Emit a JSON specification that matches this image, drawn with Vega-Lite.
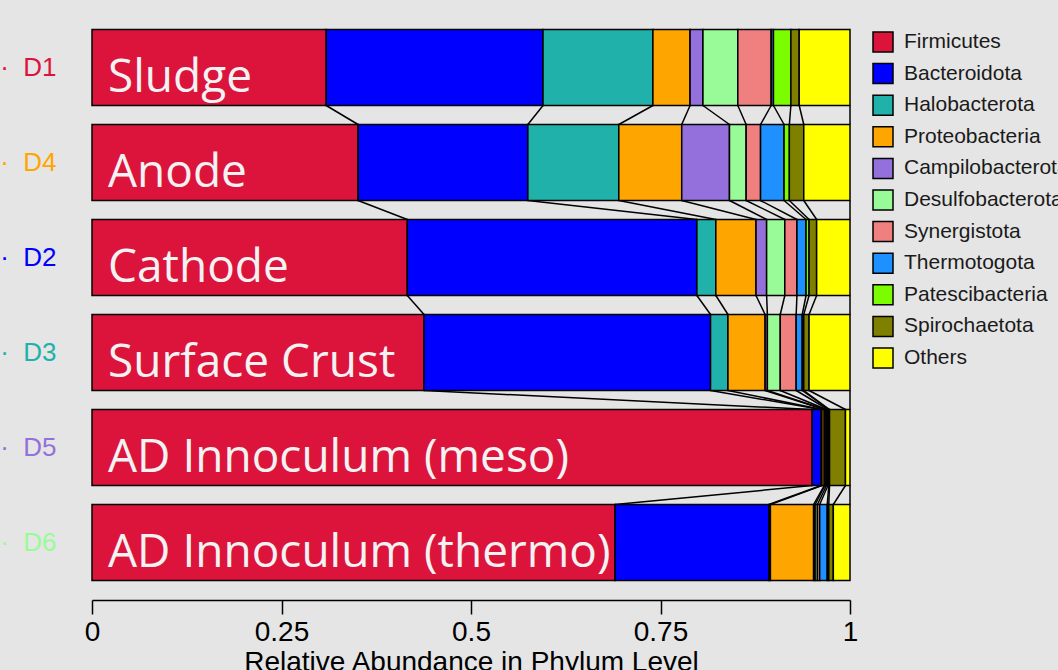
{
  "$schema": "https://vega.github.io/schema/vega-lite/v6.json",
  "width": 758,
  "height": 570,
  "autosize": "none",
  "padding": {"left": 92, "top": 20, "right": 208, "bottom": 80},
  "background": "#e5e5e5",
  "config": {
    "view": {"stroke": null},
    "axis": {"grid": false},
    "font": "Liberation Sans"
  },
  "datasets": {
    "abund": [
      {"sample": "D1", "phylum": "Firmicutes", "value": 0.309},
      {"sample": "D1", "phylum": "Bacteroidota", "value": 0.286},
      {"sample": "D1", "phylum": "Halobacterota", "value": 0.145},
      {"sample": "D1", "phylum": "Proteobacteria", "value": 0.049},
      {"sample": "D1", "phylum": "Campilobacterota", "value": 0.017},
      {"sample": "D1", "phylum": "Desulfobacterota", "value": 0.046},
      {"sample": "D1", "phylum": "Synergistota", "value": 0.044},
      {"sample": "D1", "phylum": "Thermotogota", "value": 0.003},
      {"sample": "D1", "phylum": "Patescibacteria", "value": 0.023},
      {"sample": "D1", "phylum": "Spirochaetota", "value": 0.011},
      {"sample": "D1", "phylum": "Others", "value": 0.067},
      {"sample": "D4", "phylum": "Firmicutes", "value": 0.351},
      {"sample": "D4", "phylum": "Bacteroidota", "value": 0.224},
      {"sample": "D4", "phylum": "Halobacterota", "value": 0.120},
      {"sample": "D4", "phylum": "Proteobacteria", "value": 0.083},
      {"sample": "D4", "phylum": "Campilobacterota", "value": 0.063},
      {"sample": "D4", "phylum": "Desulfobacterota", "value": 0.022},
      {"sample": "D4", "phylum": "Synergistota", "value": 0.019},
      {"sample": "D4", "phylum": "Thermotogota", "value": 0.031},
      {"sample": "D4", "phylum": "Patescibacteria", "value": 0.007},
      {"sample": "D4", "phylum": "Spirochaetota", "value": 0.019},
      {"sample": "D4", "phylum": "Others", "value": 0.061},
      {"sample": "D2", "phylum": "Firmicutes", "value": 0.416},
      {"sample": "D2", "phylum": "Bacteroidota", "value": 0.382},
      {"sample": "D2", "phylum": "Halobacterota", "value": 0.025},
      {"sample": "D2", "phylum": "Proteobacteria", "value": 0.053},
      {"sample": "D2", "phylum": "Campilobacterota", "value": 0.014},
      {"sample": "D2", "phylum": "Desulfobacterota", "value": 0.024},
      {"sample": "D2", "phylum": "Synergistota", "value": 0.016},
      {"sample": "D2", "phylum": "Thermotogota", "value": 0.012},
      {"sample": "D2", "phylum": "Patescibacteria", "value": 0.004},
      {"sample": "D2", "phylum": "Spirochaetota", "value": 0.010},
      {"sample": "D2", "phylum": "Others", "value": 0.044},
      {"sample": "D3", "phylum": "Firmicutes", "value": 0.438},
      {"sample": "D3", "phylum": "Bacteroidota", "value": 0.378},
      {"sample": "D3", "phylum": "Halobacterota", "value": 0.023},
      {"sample": "D3", "phylum": "Proteobacteria", "value": 0.049},
      {"sample": "D3", "phylum": "Campilobacterota", "value": 0.003},
      {"sample": "D3", "phylum": "Desulfobacterota", "value": 0.017},
      {"sample": "D3", "phylum": "Synergistota", "value": 0.021},
      {"sample": "D3", "phylum": "Thermotogota", "value": 0.008},
      {"sample": "D3", "phylum": "Patescibacteria", "value": 0.002},
      {"sample": "D3", "phylum": "Spirochaetota", "value": 0.007},
      {"sample": "D3", "phylum": "Others", "value": 0.054},
      {"sample": "D5", "phylum": "Firmicutes", "value": 0.950},
      {"sample": "D5", "phylum": "Bacteroidota", "value": 0.012},
      {"sample": "D5", "phylum": "Halobacterota", "value": 0.001},
      {"sample": "D5", "phylum": "Proteobacteria", "value": 0.003},
      {"sample": "D5", "phylum": "Campilobacterota", "value": 0.001},
      {"sample": "D5", "phylum": "Desulfobacterota", "value": 0.002},
      {"sample": "D5", "phylum": "Synergistota", "value": 0.002},
      {"sample": "D5", "phylum": "Thermotogota", "value": 0.001},
      {"sample": "D5", "phylum": "Patescibacteria", "value": 0.001},
      {"sample": "D5", "phylum": "Spirochaetota", "value": 0.021},
      {"sample": "D5", "phylum": "Others", "value": 0.006},
      {"sample": "D6", "phylum": "Firmicutes", "value": 0.690},
      {"sample": "D6", "phylum": "Bacteroidota", "value": 0.203},
      {"sample": "D6", "phylum": "Halobacterota", "value": 0.002},
      {"sample": "D6", "phylum": "Proteobacteria", "value": 0.057},
      {"sample": "D6", "phylum": "Campilobacterota", "value": 0.002},
      {"sample": "D6", "phylum": "Desulfobacterota", "value": 0.003},
      {"sample": "D6", "phylum": "Synergistota", "value": 0.003},
      {"sample": "D6", "phylum": "Thermotogota", "value": 0.010},
      {"sample": "D6", "phylum": "Patescibacteria", "value": 0.002},
      {"sample": "D6", "phylum": "Spirochaetota", "value": 0.006},
      {"sample": "D6", "phylum": "Others", "value": 0.022}
    ],
    "samples": [
      {"sample": "D1", "name": "Sludge"},
      {"sample": "D4", "name": "Anode"},
      {"sample": "D2", "name": "Cathode"},
      {"sample": "D3", "name": "Surface Crust"},
      {"sample": "D5", "name": "AD Innoculum (meso)"},
      {"sample": "D6", "name": "AD Innoculum (thermo)"}
    ]
  },
  "layer": [
    {
      "data": {"name": "abund"},
      "transform": [
        {"calculate": "indexof(['Firmicutes','Bacteroidota','Halobacterota','Proteobacteria','Campilobacterota','Desulfobacterota','Synergistota','Thermotogota','Patescibacteria','Spirochaetota','Others'], datum.phylum)", "as": "ord"},
        {"stack": "value", "groupby": ["sample"], "sort": [{"field": "ord", "order": "ascending"}], "as": ["x0", "x1"]},
        {"calculate": "indexof(['D1','D4','D2','D3','D5','D6'], datum.sample)", "as": "rowi"},
        {"window": [{"op": "lead", "field": "x1", "as": "nx1"}, {"op": "lead", "field": "sample", "as": "nsample"}], "groupby": ["phylum"], "sort": [{"field": "rowi", "order": "ascending"}]},
        {"filter": "datum.nsample != null"}
      ],
      "mark": {"type": "rule", "stroke": "black", "strokeWidth": 1.5, "yOffset": 38, "y2Offset": -38},
      "encoding": {
        "x": {"field": "x1", "type": "quantitative", "scale": {"domain": [0, 1], "nice": false, "zero": false}},
        "x2": {"field": "nx1"},
        "y": {"field": "sample", "type": "nominal", "sort": ["D1", "D4", "D2", "D3", "D5", "D6"], "scale": {"type": "point", "padding": 0.5}},
        "y2": {"field": "nsample"}
      }
    },
    {
      "data": {"name": "abund"},
      "transform": [
        {"calculate": "indexof(['Firmicutes','Bacteroidota','Halobacterota','Proteobacteria','Campilobacterota','Desulfobacterota','Synergistota','Thermotogota','Patescibacteria','Spirochaetota','Others'], datum.phylum)", "as": "ord"},
        {"stack": "value", "groupby": ["sample"], "sort": [{"field": "ord", "order": "ascending"}], "as": ["x0", "x1"]}
      ],
      "mark": {"type": "bar", "height": 76, "stroke": "black", "strokeWidth": 1.5},
      "encoding": {
        "x": {
          "field": "x0", "type": "quantitative",
          "scale": {"domain": [0, 1], "nice": false, "zero": false},
          "axis": {
            "values": [0, 0.25, 0.5, 0.75, 1],
            "format": "~g",
            "title": "Relative Abundance in Phylum Level",
            "titleFont": "Liberation Sans",
            "titleFontSize": 28,
            "titleFontWeight": "normal",
            "titleColor": "#000000",
            "titlePadding": 2,
            "labelFont": "Liberation Sans",
            "labelFontSize": 28,
            "labelColor": "#000000",
            "labelPadding": 4,
            "labelFlush": false,
            "labelOverlap": false,
            "offset": 10,
            "domainColor": "#000000",
            "domainWidth": 1.5,
            "tickColor": "#000000",
            "tickWidth": 1.5,
            "tickSize": 14
          }
        },
        "x2": {"field": "x1"},
        "y": {
          "field": "sample", "type": "nominal",
          "sort": ["D1", "D4", "D2", "D3", "D5", "D6"],
          "scale": {"type": "point", "padding": 0.5},
          "axis": {
            "title": null,
            "ticks": false,
            "domain": false,
            "labelPadding": 36,
            "labelFont": "Liberation Sans",
            "labelFontSize": 26,
            "labelExpr": "'·\u00a0\u00a0' + datum.label",
            "labelColor": {"expr": "datum.value == 'D1' ? '#DC143C' : datum.value == 'D4' ? '#FFA500' : datum.value == 'D2' ? '#0000FF' : datum.value == 'D3' ? '#20B2AA' : datum.value == 'D5' ? '#9370DB' : '#98FB98'"}
          }
        },
        "color": {
          "field": "phylum", "type": "nominal",
          "scale": {
            "domain": ["Firmicutes", "Bacteroidota", "Halobacterota", "Proteobacteria", "Campilobacterota", "Desulfobacterota", "Synergistota", "Thermotogota", "Patescibacteria", "Spirochaetota", "Others"],
            "range": ["#DC143C", "#0000FF", "#20B2AA", "#FFA500", "#9370DB", "#98FB98", "#F08080", "#1E90FF", "#7CFC00", "#808000", "#FFFF00"]
          },
          "legend": {
            "title": null,
            "orient": "none",
            "legendX": 780,
            "legendY": 11,
            "padding": 0,
            "symbolType": "square",
            "symbolSize": 400,
            "symbolStrokeColor": "black",
            "symbolStrokeWidth": 1.5,
            "labelFont": "Liberation Sans",
            "labelFontSize": 21,
            "labelColor": "#1a1a1a",
            "labelOffset": 10,
            "labelLimit": 400,
            "rowPadding": 5.6
          }
        }
      }
    },
    {
      "data": {"name": "samples"},
      "mark": {"type": "text", "align": "left", "baseline": "alphabetic", "dx": 16, "dy": 24, "fontSize": 46, "font": "Open Sans", "fontWeight": "normal", "color": "#F2F2F2"},
      "encoding": {
        "x": {"datum": 0, "type": "quantitative"},
        "y": {"field": "sample", "type": "nominal", "sort": ["D1", "D4", "D2", "D3", "D5", "D6"]},
        "text": {"field": "name"}
      }
    }
  ]
}
